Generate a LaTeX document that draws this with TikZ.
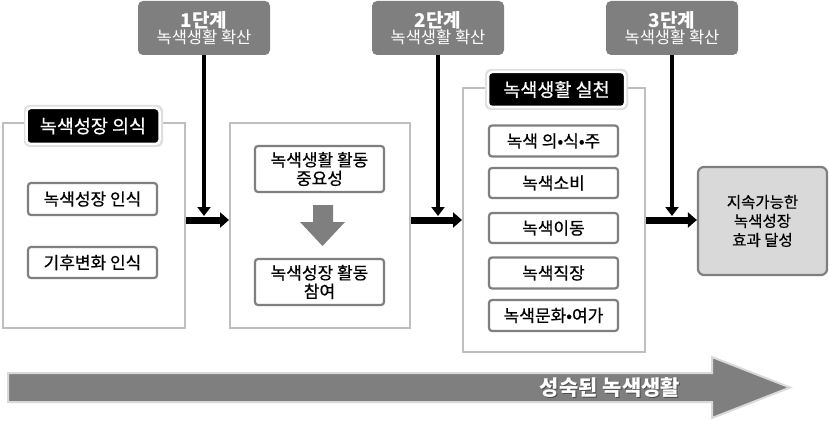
\documentclass[tikz,border=0pt]{standalone}
\usepackage{fontspec}
\setmainfont{Noto Sans CJK KR}
\newfontfamily\krmed{Noto Sans CJK KR}[FakeBold=0.6]
\usetikzlibrary{arrows.meta}
\definecolor{dgray}{HTML}{7F7F7F}
\definecolor{lgray}{HTML}{BFBFBF}
\definecolor{fgray}{HTML}{D9D9D9}
\tikzset{
  outerbox/.style={draw=lgray, line width=2pt, fill=white, minimum width=#1},
  titlebox/.style={fill=black, text=white, draw=white, line width=2.5pt, rounded corners=4pt, font=\krmed\fontsize{18.5}{20}\selectfont, inner sep=0pt},
  innerbox/.style={draw=dgray, line width=2.2pt, fill=white, rounded corners=3pt, font=\krmed\fontsize{17}{18.5}\selectfont, inner sep=0pt, align=center},
  stagebox/.style={fill=dgray, rounded corners=5pt, text=white, align=center, inner sep=0pt, minimum width=132pt, minimum height=54pt},
  varrow/.style={line width=4.5pt, -{Triangle[width=13pt,length=9pt]}},
  harrow/.style={line width=7pt, -{Triangle[width=15pt,length=9pt]}},
}
\begin{document}
\begin{tikzpicture}[x=1pt,y=-1pt]
\useasboundingbox (0,0) rectangle (829,422);
% outer boxes
\node[outerbox=182pt, minimum height=205pt] (b1) at (93.5,225.5) {};
\node[outerbox=180pt, minimum height=205pt] (b2) at (320,225.5) {};
\node[outerbox=182pt, minimum height=264pt] (b3) at (554,220) {};
% title boxes
\fill[gray!25, rounded corners=6pt] (24,105) rectangle (163,147);
\node[titlebox, minimum width=133pt, minimum height=36pt] (t1) at (93,126) {녹색성장 의식};
\fill[gray!25, rounded corners=6pt] (485,69) rectangle (628,110);
\node[titlebox, minimum width=137pt, minimum height=35pt] (t3) at (556.5,89.5) {녹색생활 실천};
% box1 inner
\node[innerbox, minimum width=129pt, minimum height=32pt] (i11) at (92.5,199) {녹색성장 인식};
\node[innerbox, minimum width=129pt, minimum height=31pt] (i12) at (92.5,262.5) {기후변화 인식};
% box2 inner
\node[innerbox, minimum width=129pt, minimum height=46pt] (i21) at (319.5,169) {녹색생활 활동\\중요성};
\node[innerbox, minimum width=129pt, minimum height=46pt] (i22) at (319.5,282) {녹색성장 활동\\참여};
\fill[dgray] (313,205) -- (333,205) -- (333,222) -- (345,222) -- (322.5,246) -- (300,222) -- (313,222) -- cycle;
% box3 inner
\node[innerbox, minimum width=129pt, minimum height=31pt] (i31) at (553.5,141) {녹색 의•식•주};
\node[innerbox, minimum width=129pt, minimum height=30pt] (i32) at (553.5,183) {녹색소비};
\node[innerbox, minimum width=129pt, minimum height=30pt] (i33) at (553.5,228) {녹색이동};
\node[innerbox, minimum width=129pt, minimum height=31pt] (i34) at (553.5,273) {녹색직장};
\node[innerbox, minimum width=129pt, minimum height=31pt] (i35) at (553.5,315.5) {녹색문화•여가};
% final
\node[draw=dgray, fill=fgray, line width=2.2pt, rounded corners=6pt, minimum width=129pt, minimum height=108pt, align=center, font=\krmed\fontsize{15.5}{19}\selectfont, inner sep=0pt] (fin) at (762.5,221) {지속가능한\\녹색성장\\효과 달성};
% stage boxes
\node[stagebox] (s1) at (204,28) {{\fontsize{19}{21}\selectfont\bfseries 1단계}\\[-1pt]{\fontsize{16.5}{18}\selectfont 녹색생활 확산}};
\node[stagebox] (s2) at (438,28) {{\fontsize{19}{21}\selectfont\bfseries 2단계}\\[-1pt]{\fontsize{16.5}{18}\selectfont 녹색생활 확산}};
\node[stagebox] (s3) at (672,28) {{\fontsize{19}{21}\selectfont\bfseries 3단계}\\[-1pt]{\fontsize{16.5}{18}\selectfont 녹색생활 확산}};
% horizontal arrows
\draw[harrow] (b1.east |- 0,220) -- (b2.west |- 0,220);
\draw[harrow] (b2.east |- 0,220) -- (b3.west |- 0,220);
\draw[harrow] (b3.east |- 0,220) -- (fin.west |- 0,220);
\coordinate (e1) at (s1.south |- 0,216);
\coordinate (e2) at (s2.south |- 0,216);
\coordinate (e3) at (s3.south |- 0,216);
\draw[varrow] (s1.south) -- (e1);
\draw[varrow] (s2.south) -- (e2);
\draw[varrow] (s3.south) -- (e3);
% big arrow
\draw[fill=dgray, draw=fgray, line width=2pt, line join=miter] (8,373) -- (712,373) -- (712,357) -- (790,387.5) -- (712,418) -- (712,402) -- (8,402) -- cycle;
\node[text=black!70, font=\fontsize{21}{23}\selectfont\bfseries] (bts) at (611,388.5) {성숙된 녹색생활};
\node[text=white, font=\fontsize{21}{23}\selectfont\bfseries] (bt) at (610,387.5) {성숙된 녹색생활};
\end{tikzpicture}
\end{document}
